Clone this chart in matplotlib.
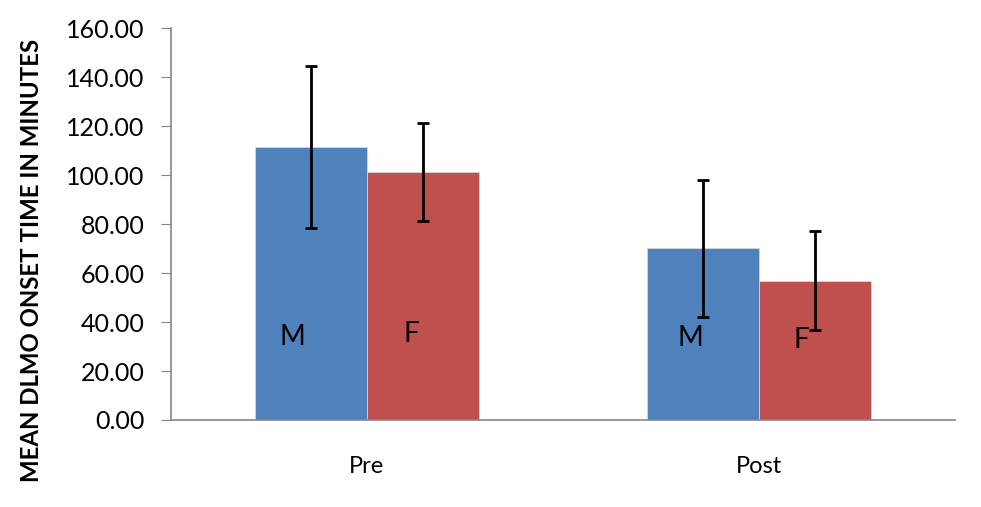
import numpy as np
import matplotlib
matplotlib.use('Agg')
import matplotlib.pyplot as plt

plt.rcParams['font.family'] = ['Lato', 'DejaVu Sans']

# data
groups = ['Pre', 'Post']
sexes = ['M', 'F']
means_m = [111.6, 70.1]
means_f = [101.3, 56.9]
err_m = [33.0, 28.1]
err_f = [20.0, 20.1]
colors = ['#4F81BD', '#C0504D']

fig = plt.figure(figsize=(9.81, 5.07), dpi=100)
ax = fig.add_axes([0.1743, 0.1716, 0.7992, 0.7726])

x = np.arange(len(groups))
w = 1 / 3.5

for i, (vals, errs) in enumerate([(means_m, err_m), (means_f, err_f)]):
    pos = x + (i - 0.5) * w
    ax.bar(pos, vals, width=w, color=colors[i], edgecolor='#dddddd', linewidth=0.5, zorder=2)
    ax.errorbar(pos, vals, yerr=errs, fmt='none', ecolor='black', elinewidth=2,
                capsize=4, capthick=2, zorder=3)

# in-bar letter labels
label_pos = [(-0.19, 34), (0.112, 35), (0.824, 33.5), (1.109, 32.5)]
letters = ['M', 'F', 'M', 'F']
for (lx, ly), t in zip(label_pos, letters):
    ax.text(lx, ly, t, fontsize=20, ha='center', va='center', zorder=4)

ax.set_xlim(-0.5, 1.5)
ax.set_ylim(0, 160)
ax.set_yticks(np.arange(0, 161, 20))
ax.set_yticklabels(['%.2f' % v for v in np.arange(0, 161, 20)], fontsize=18)
ax.set_xticks(x)
ax.set_xticklabels(groups, fontsize=17)
ax.tick_params(axis='x', length=0, pad=26)
ax.tick_params(axis='y', length=7, color='#868686', pad=12)

for s in ['top', 'right']:
    ax.spines[s].set_visible(False)
for s in ['left', 'bottom']:
    ax.spines[s].set_color('#868686')
    ax.spines[s].set_linewidth(1.2)

fig.text(32 / 981, 1 - 260 / 507, 'MEAN DLMO ONSET TIME IN MINUTES', fontsize=17.3,
         fontweight='bold', rotation=90, ha='center', va='center')

fig.savefig('out.png', dpi=100)
